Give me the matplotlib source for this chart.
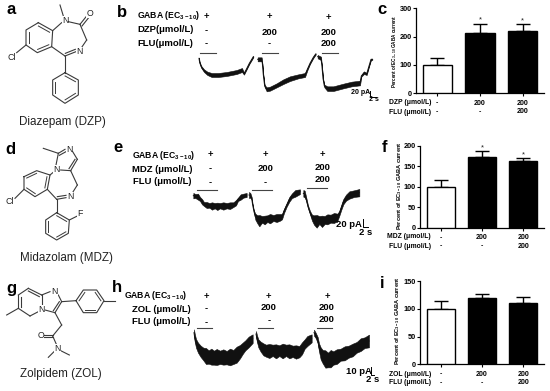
import numpy as np
import matplotlib
matplotlib.use("Agg")
import matplotlib.pyplot as plt

plt.rcParams['font.family'] = ['Liberation Sans', 'DejaVu Sans']
plt.rcParams['mathtext.fontset'] = 'custom'
plt.rcParams['mathtext.rm'] = 'Liberation Sans:bold'
plt.rcParams['mathtext.default'] = 'rm'

# ---------- bar data ----------
bar_c_means = [100, 214, 220]
bar_c_tops = [124, 246, 245]
bar_f_means = [100, 173, 164]
bar_f_tops = [117, 186, 169]
bar_i_means = [100, 119, 111]
bar_i_tops = [114, 126, 121]
bar_colors = ['white', 'black', 'black']
ticks_c = [0, 100, 200, 300]
ticks_f = [0, 50, 100, 150, 200]
ticks_i = [0, 50, 100, 150]
dose_labels = ['-\n-', '200\n-', '200\n200']

trace_b = [
    ([87, 89, 94, 102, 112, 125, 145, 170, 200, 216, 222, 228, 238, 250],
     [175, 188, 201, 212, 220, 225, 225, 222, 216, 210, 221, 210, 190, 170],
     [2, 2, 3, 4, 5, 6, 6, 6, 6, 6, 3, 2, 2, 2]),
    ([263, 275, 277, 280, 284, 290, 300, 320, 340, 360, 385, 405, 412, 420, 430, 437],
     [178, 178, 190, 225, 258, 268, 266, 256, 245, 236, 229, 225, 208, 190, 172, 162],
     [6, 6, 1, 1, 3, 6, 6, 6, 7, 7, 6, 6, 3, 2, 2, 2]),
    ([443, 453, 456, 459, 463, 472, 490, 520, 545, 570, 574, 582, 590, 597, 603, 607],
     [170, 175, 200, 235, 258, 266, 266, 258, 252, 249, 228, 218, 222, 198, 178, 178],
     [5, 5, 1, 1, 4, 7, 7, 7, 7, 7, 2, 4, 3, 2, 2, 2]),
]
trace_e = [
    ([70, 76, 84, 90, 96, 102, 110, 118, 126, 134, 142, 150, 160, 170, 180, 190, 198, 204, 212, 220, 230],
     [197, 198, 200, 207, 215, 222, 225, 226, 228, 227, 229, 227, 228, 227, 227, 224, 218, 208, 201, 197, 195],
     [8, 6, 9, 6, 8, 6, 9, 7, 11, 8, 11, 8, 11, 8, 10, 7, 8, 5, 8, 6, 6]),
    ([237, 241, 245, 248, 252, 256, 262, 268, 276, 284, 292, 300, 310, 320, 330, 336, 342, 350, 358, 366, 376, 390],
     [195, 196, 205, 225, 245, 260, 268, 272, 268, 270, 266, 266, 264, 264, 262, 260, 243, 225, 208, 197, 190, 185],
     [9, 7, 4, 2, 3, 9, 12, 17, 10, 13, 10, 14, 9, 12, 10, 8, 6, 5, 7, 7, 10, 7]),
    ([400, 404, 408, 414, 420, 426, 432, 440, 448, 456, 464, 472, 482, 492, 502, 508, 514, 520, 528, 538, 552, 568],
     [190, 192, 205, 230, 248, 263, 270, 274, 270, 274, 270, 268, 266, 264, 262, 250, 232, 215, 203, 195, 191, 188],
     [10, 10, 6, 4, 5, 9, 14, 19, 12, 17, 12, 15, 12, 15, 11, 7, 7, 8, 9, 11, 10, 11]),
]
trace_h = [
    ([72, 74, 78, 84, 92, 100, 108, 116, 124, 132, 140, 150, 160, 170, 180, 190, 200, 210, 218, 226, 236, 248],
     [218, 232, 250, 263, 274, 282, 288, 291, 290, 293, 291, 292, 291, 293, 291, 291, 284, 275, 265, 256, 246, 236],
     [10, 12, 13, 15, 17, 19, 24, 20, 24, 21, 24, 20, 23, 20, 25, 21, 24, 20, 17, 15, 16, 13]),
    ([258, 261, 265, 272, 280, 288, 298, 308, 318, 328, 338, 348, 358, 368, 378, 388, 396, 404, 412, 425],
     [222, 236, 250, 260, 268, 272, 273, 271, 274, 272, 273, 271, 274, 274, 276, 275, 265, 252, 243, 235],
     [9, 10, 12, 15, 18, 18, 21, 17, 21, 16, 22, 17, 21, 17, 20, 17, 18, 14, 15, 12]),
    ([432, 437, 443, 447, 452, 458, 466, 474, 482, 490, 500, 512, 524, 536, 548, 560, 572, 584, 597],
     [218, 226, 240, 262, 280, 290, 297, 300, 296, 294, 290, 284, 280, 275, 270, 262, 254, 248, 243],
     [9, 8, 9, 12, 18, 20, 26, 22, 26, 20, 22, 18, 21, 18, 19, 16, 19, 16, 19]),
]

# ---------- structure skeletons (1/3 px units) ----------
dzp_rings = [[(115, 68), (158, 92), (155, 140), (112, 158), (78, 135), (78, 90)],
             [(195, 218), (235, 240), (235, 285), (195, 310), (158, 285), (158, 240)]]
dzp_bonds = [[(180, 15), (190, 48)], [(158, 92), (185, 68)], [(205, 65), (240, 73)], [(240, 73), (260, 48)],
             [(246, 78), (266, 53)], [(240, 73), (260, 120)], [(260, 120), (243, 145)], [(228, 155), (195, 168)],
             [(226, 148), (196, 160)], [(195, 168), (155, 140)], [(195, 168), (195, 218)], [(78, 135), (50, 158)]]
dzp_atoms = [(195, 62, 'N'), (270, 40, 'O'), (237, 155, 'N'), (35, 172, 'Cl')]

mdz_rings = [[(72, 140), (110, 122), (150, 135), (142, 178), (105, 200), (72, 178)],
             [(170, 248), (208, 270), (205, 310), (170, 330), (137, 310), (137, 270)]]
mdz_bonds = [[(130, 55), (175, 70)], [(175, 70), (168, 105)], [(175, 70), (195, 58)], [(178, 76), (198, 65)],
             [(218, 65), (232, 88)], [(232, 88), (212, 122)], [(225, 88), (207, 116)], [(212, 122), (182, 120)],
             [(212, 122), (232, 165)], [(232, 165), (215, 192)], [(198, 203), (170, 208)], [(198, 196), (172, 200)],
             [(170, 208), (142, 178)], [(170, 208), (170, 248)], [(208, 270), (232, 258)], [(72, 178), (45, 205)],
             [(150, 135), (162, 125)]]
mdz_atoms = [(170, 118, 'N'), (207, 60, 'N'), (210, 200, 'N'), (240, 252, 'F'), (30, 213, 'Cl')]

zol_rings = [[(228, 122), (250, 90), (290, 90), (312, 122), (290, 158), (250, 158)]]
zol_bonds = [[(85, 85), (125, 105)], [(85, 93), (118, 110)], [(85, 85), (55, 105)], [(55, 105), (55, 145)], [(62, 110), (62, 142)],
             [(55, 145), (90, 168)], [(90, 168), (115, 155)], [(125, 105), (125, 135)], [(125, 105), (150, 95)],
             [(175, 105), (185, 125)], [(185, 125), (165, 158)], [(178, 125), (160, 152)], [(165, 158), (135, 150)],
             [(55, 145), (20, 165)], [(185, 125), (228, 122)], [(312, 122), (345, 122)], [(165, 158), (185, 195)],
             [(185, 195), (158, 228)], [(158, 224), (133, 224)], [(158, 232), (133, 232)], [(158, 228), (170, 255)],
             [(165, 272), (145, 292)], [(182, 272), (208, 285)]]
zol_atoms = [(125, 148, 'N'), (163, 95, 'N'), (122, 228, 'O'), (172, 265, 'N')]

# ---------- figure ----------
W, H = 550, 391
fig = plt.figure(figsize=(W / 100, H / 100), dpi=100, facecolor='white')


def bar_panel(left, right, top, bottom, means, tops, ticks, ymax, ylab, ylab_x, ylab_fs, rows, rows_y, stars):
    ax = fig.add_axes([left / W, (H - bottom) / H, (right - left) / W, (bottom - top) / H])
    x = np.arange(3)
    ax.bar(x, means, width=0.68, color=bar_colors, edgecolor='black', linewidth=1.0, zorder=3)
    for xi, m, t in zip(x, means, tops):
        ax.errorbar(xi, m, yerr=[[0], [t - m]], color='black', capsize=5.2, elinewidth=1.0, capthick=1.0, zorder=2)
    ax.set_xlim(-0.5, 2.5)
    ax.set_ylim(0, ymax)
    ax.set_yticks(ticks)
    ax.set_xticks(x)
    ax.set_xticklabels(dose_labels, fontsize=5, fontweight='bold', linespacing=1.25)
    ax.tick_params(axis='y', length=2.2, width=0.8, pad=1, labelsize=5.3)
    ax.tick_params(axis='x', length=2, width=0.8, pad=2.5)
    for lab in ax.get_yticklabels():
        lab.set_fontweight('bold')
    for s in ['top', 'right']:
        ax.spines[s].set_visible(False)
    for s in ['left', 'bottom']:
        ax.spines[s].set_linewidth(0.9)
    for i in stars:
        ax.text(i, tops[i] + ymax * 0.04, '*', ha='center', va='center', fontsize=5.5, color='#222222', clip_on=False)
    cy = (top + bottom) / 2 + ylab[1]
    ov.text(ylab_x, cy, ylab[0], rotation=90, ha='center', va='center', fontsize=ylab_fs, fontweight='bold')
    for r, y in zip(rows, rows_y):
        ov.text(431, y, r, ha='right', va='center', fontsize=4.9, fontweight='bold')
    return ax


ov = fig.add_axes([0, 0, 1, 1], zorder=5)
ov.set_xlim(0, W)
ov.set_ylim(H, 0)
ov.axis('off')
ov.patch.set_alpha(0)


def Z(ox, oy, xs, ys):
    return ox + np.asarray(xs, float) / 3, oy + np.asarray(ys, float) / 3


def draw_traces(trace, ox, oy):
    for xs, ys, hs in trace:
        x, y = Z(ox, oy, xs, ys)
        h = np.asarray(hs, float) / 3
        ov.fill_between(x, y - h, y + h, color='#111111', lw=0.4)
        ov.plot(x, y, color='#111111', lw=0.7)


def draw_mol(rings, bonds, atoms, ox, oy):
    col = '#3a3a3a'
    for ring in rings:
        pts = np.array(ring + ring[:1], float)
        x, y = Z(ox, oy, pts[:, 0], pts[:, 1])
        ov.plot(x, y, color=col, lw=0.8)
        c = np.array(ring, float).mean(axis=0)
        for k in (0, 2, 4):
            a = c + (pts[k] - c) * 0.78
            b = c + (pts[k + 1] - c) * 0.78
            x, y = Z(ox, oy, [a[0], b[0]], [a[1], b[1]])
            ov.plot(x, y, color=col, lw=0.7)
    for b in bonds:
        x, y = Z(ox, oy, [b[0][0], b[1][0]], [b[0][1], b[1][1]])
        ov.plot(x, y, color=col, lw=0.8)
    for ax_, ay_, t in atoms:
        x, y = Z(ox, oy, ax_, ay_)
        ov.text(x, y, t, ha='center', va='center', fontsize=6.3, color='#222222',
                bbox=dict(facecolor='white', edgecolor='none', pad=0.1))


draw_mol(dzp_rings, dzp_bonds, dzp_atoms, 0, 0)
draw_mol(mdz_rings, mdz_bonds, mdz_atoms, 0, 130)
draw_mol([], zol_bonds, zol_atoms, 0, 260)
draw_mol(zol_rings, [], [], 0, 260)

draw_traces(trace_b, 170, 0)
draw_traces(trace_e, 170, 130)
draw_traces(trace_h, 170, 260)

# panel letters
for (x, y, s) in [(11, 9, 'a'), (121.5, 12.5, 'b'), (382.5, 10, 'c'), (10.5, 149, 'd'), (117.5, 148, 'e'),
                  (384.5, 148, 'f'), (11.5, 288, 'g'), (117, 288, 'h'), (382.5, 284, 'i')]:
    ov.text(x, y, s, ha='center', va='center', fontsize=12, fontweight='bold', color='black')

# compound names
for (x, y, s) in [(62, 122, 'Diazepam (DZP)'), (66, 258, 'Midazolam (MDZ)'), (61, 374, 'Zolpidem (ZOL)')]:
    ov.text(x, y, s, ha='center', va='center', fontsize=8.4, color='#222222')

# condition rows beside traces
GABA = 'GABA (EC$_{3-10}$)'
for (x, y, s, fs) in [(137, 15.7, GABA, 6.2), (137, 29.7, 'DZP(μmol/L)', 6.8), (137, 44, 'FLU(μmol/L)', 6.8),
                      (132, 155.7, GABA, 6.2), (132, 169, 'MDZ (μmol/L)', 6.8), (133, 181.7, 'FLU (μmol/L)', 6.8),
                      (124, 296, GABA, 6.2), (132, 309, 'ZOL (μmol/L)', 6.8), (132, 322, 'FLU (μmol/L)', 6.8)]:
    ov.text(x, y, s, ha='left', va='center', fontsize=fs, fontweight='bold')

cond_text = [
    (170, 0, [(110, 50, '+'), (110, 92, '-'), (110, 130, '-'), (298, 50, '+'), (298, 98, '200'), (298, 132, '-'),
              (475, 52, '+'), (477, 98, '200'), (477, 130, '200')]),
    (170, 130, [(122, 75, '+'), (122, 116, '-'), (122, 158, '-'), (287, 73, '+'), (287, 115, '200'), (285, 158, '-'),
                (458, 73, '+'), (458, 113, '200'), (458, 150, '200')]),
    (170, 260, [(110, 108, '+'), (110, 145, '-'), (110, 187, '-'), (295, 108, '+'), (296, 143, '200'), (297, 183, '-'),
                (471, 108, '+'), (471, 141, '200'), (471, 180, '200')]),
]
for ox, oy, items in cond_text:
    for x, y, s in items:
        ov.text(ox + x / 3, oy + y / 3, s, ha='center', va='center', fontsize=6.8, fontweight='bold')

# agonist application bars
stim = [(170, 0, [(90, 138, 158), (276, 325, 159), (456, 503, 158)]),
        (170, 130, [(82, 142, 180), (245, 305, 179), (412, 472, 175)]),
        (170, 260, [(80, 125, 205), (263, 308, 205), (441, 486, 205)])]
for ox, oy, segs in stim:
    for a, b, y in segs:
        x_, y_ = Z(ox, oy, [a, b], [y, y])
        ov.plot(x_, y_, color='#444444', lw=0.8)

# scale bars
scale = [(170, 0, 600, 272, 290, 617, '20 pA', 571, 278, 5.0, '2 s', 611, 298, 5.0),
         (170, 130, 580, 268, 292, 595, '20 pA', 536, 283, 6.8, '2 s', 588, 308, 6.8),
         (170, 260, 603, 322, 345, 612, '10 pA', 566, 335, 6.8, '2 s', 608, 357, 6.8)]
for ox, oy, xv, y0, y1, xh, t1, tx1, ty1, fs1, t2, tx2, ty2, fs2 in scale:
    x_, y_ = Z(ox, oy, [xv, xv, xh], [y0, y1, y1])
    ov.plot(x_, y_, color='black', lw=0.7)
    ov.text(ox + tx1 / 3, oy + ty1 / 3, t1, ha='center', va='center', fontsize=fs1, fontweight='bold')
    ov.text(ox + tx2 / 3, oy + ty2 / 3, t2, ha='center', va='center', fontsize=fs2, fontweight='bold')

YLAB = 'Percent of EC$_{3-10}$ GABA current'
bar_panel(416, 544, 8.3, 93.3, bar_c_means, bar_c_tops, ticks_c, 300, (YLAB, 1), 395, 3.3,
          ['DZP (μmol/L)', 'FLU (μmol/L)'], [102, 112], [1, 2])
bar_panel(420, 544, 145.7, 228, bar_f_means, bar_f_tops, ticks_f, 200, (YLAB, -1), 400, 4.1,
          ['MDZ (μmol/L)', 'FLU (μmol/L)'], [236.7, 246], [1, 2])
bar_panel(420, 544, 281, 364.3, bar_i_means, bar_i_tops, ticks_i, 150, (YLAB, -2), 398, 4.1,
          ['ZOL (μmol/L)', 'FLU (μmol/L)'], [374, 383], [])

fig.savefig('out.png', dpi=100, facecolor='white')
